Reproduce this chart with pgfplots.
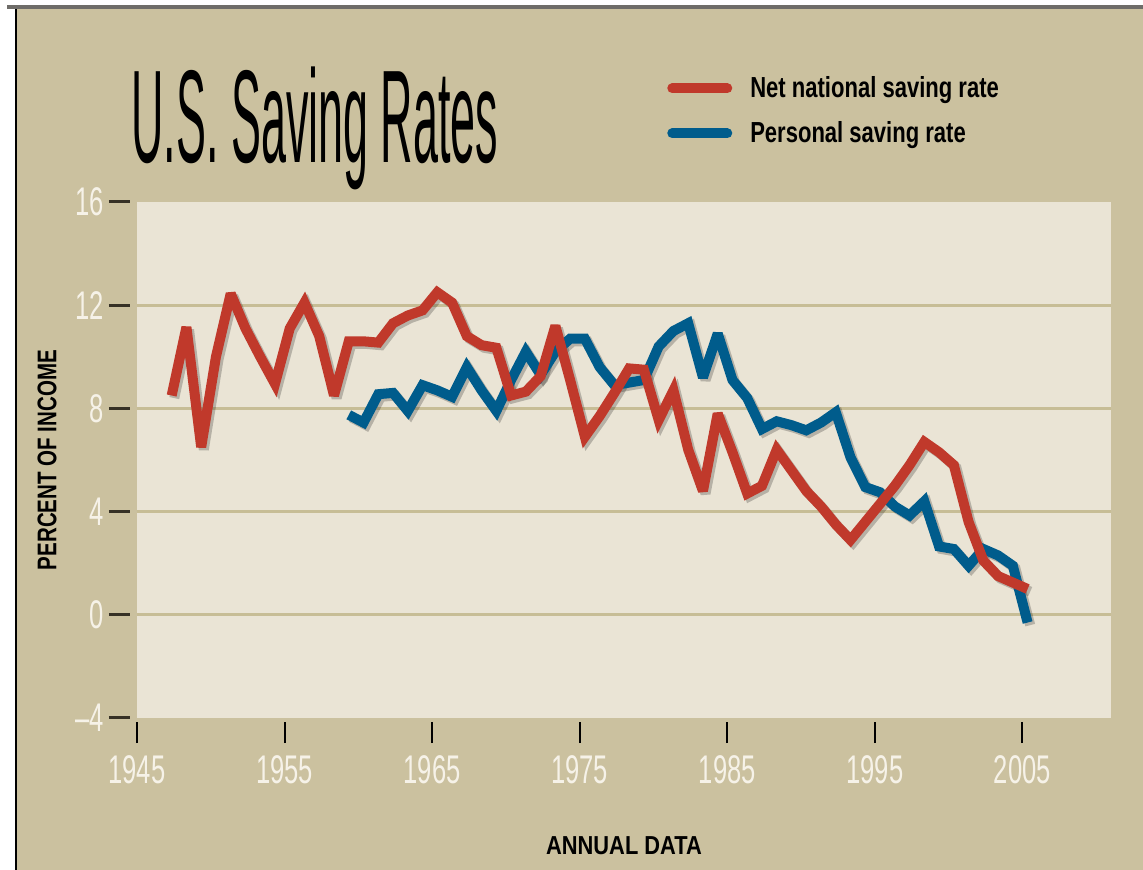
\documentclass[border=0pt]{standalone}
\usepackage{pgfplots}
\pgfplotsset{compat=1.18}
\usepackage{pgfplotstable}
\usepackage{fontspec}
\setmainfont{Liberation Sans}
\newfontfamily\titlefont[FakeStretch=0.34]{Liberation Sans}
\newfontfamily\tickfont[FakeStretch=0.64]{Liberation Sans}
\newfontfamily\labelfont[FakeStretch=0.76]{Liberation Sans}
\newfontfamily\xlabfont[FakeStretch=0.84]{Liberation Sans}

\definecolor{tanbg}{RGB}{203,193,159}
\definecolor{cream}{RGB}{234,228,213}
\definecolor{gridc}{RGB}{199,189,150}
\definecolor{netred}{RGB}{192,57,43}
\definecolor{persblue}{RGB}{0,92,140}
\definecolor{ticktext}{RGB}{246,242,232}
\definecolor{tickdark}{RGB}{55,50,38}
\definecolor{topgray}{RGB}{110,108,104}

\pgfplotstableread{
year value
1947 8.5
1948 11.15
1949 6.5
1950 10.0
1951 12.45
1952 11.1
1953 10.0
1954 8.95
1955 11.1
1956 12.1
1957 10.8
1958 8.5
1959 10.6
1960 10.6
1961 10.55
1962 11.3
1963 11.6
1964 11.8
1965 12.5
1966 12.1
1967 10.8
1968 10.45
1969 10.35
1970 8.5
1971 8.65
1972 9.25
1973 11.2
1974 9.1
1975 6.9
1976 7.7
1977 8.6
1978 9.55
1979 9.5
1980 7.55
1981 8.7
1982 6.4
1983 4.8
1984 7.8
1985 6.3
1986 4.7
1987 5.0
1988 6.4
1989 5.6
1990 4.8
1991 4.2
1992 3.5
1993 2.9
1994 3.6
1995 4.3
1996 5.0
1997 5.8
1998 6.7
1999 6.3
2000 5.8
2001 3.6
2002 2.1
2003 1.5
2004 1.25
2005 1.0
}\netnational

\pgfplotstableread{
year value
1959 7.75
1960 7.45
1961 8.55
1962 8.6
1963 7.9
1964 8.9
1965 8.7
1966 8.45
1967 9.6
1968 8.7
1969 7.9
1970 9.1
1971 10.2
1972 9.3
1973 10.2
1974 10.7
1975 10.7
1976 9.6
1977 8.9
1978 9.0
1979 9.1
1980 10.4
1981 11.0
1982 11.3
1983 9.2
1984 10.9
1985 9.1
1986 8.4
1987 7.2
1988 7.5
1989 7.35
1990 7.15
1991 7.45
1992 7.85
1993 6.1
1994 4.95
1995 4.75
1996 4.2
1997 3.85
1998 4.4
1999 2.65
2000 2.55
2001 1.9
2002 2.55
2003 2.3
2004 1.9
2005 -0.3
}\personal

\begin{document}
\begin{tikzpicture}
% page background and frame
\fill[white] (-68.5pt,-76pt) rectangle (503pt,359pt);
\fill[tanbg] (-60pt,-76pt) rectangle (503pt,354.5pt);
\fill[topgray] (-65pt,354.5pt) rectangle (503pt,356.5pt);
\fill[black] (-61pt,-76pt) rectangle (-60pt,354.5pt);
\begin{axis}[
  at={(0,0)}, anchor=south west,
  scale only axis, width=487pt, height=258pt,
  xmin=1945, xmax=2011, ymin=-4, ymax=16,
  axis background/.style={fill=cream},
  axis line style={draw=none},
  xtick={1945,1955,1965,1975,1985,1995,2005},
  xticklabels={1945,1955,1965,1975,1985,1995,2005},
  ytick={-4,0,4,8,12,16},
  yticklabels={\textendash4,0,4,8,12,16},
  extra y ticks={0,4,8,12},
  extra y tick labels={},
  extra y tick style={ymajorgrids=true, major tick length=0pt, grid style={gridc, line width=1.5pt}},
  tick align=outside,
  major tick length=10.5pt,
  x tick style={black, line width=1pt, yshift=-2pt},
  y tick style={tickdark, line width=1.5pt, xshift=-3.5pt},
  xtick pos=bottom, ytick pos=left,
  xticklabel style={font=\tickfont\fontsize{20}{20}\selectfont, text=ticktext, inner sep=0pt, anchor=north, yshift=-8pt},
  yticklabel style={font=\tickfont\fontsize{20}{20}\selectfont, text=ticktext, inner sep=0pt, anchor=east, xshift=-6pt},
  xlabel={ANNUAL DATA},
  ylabel={PERCENT OF INCOME},
  xlabel style={font=\xlabfont\bfseries\fontsize{13}{15}\selectfont, text=black, at={(axis description cs:0.5,-0.248)}, anchor=center},
  ylabel style={font=\labelfont\bfseries\fontsize{13.5}{15}\selectfont, text=black, at={(axis description cs:-0.0924,0.5)}, anchor=center},
  legend style={at={(axis description cs:0.544,1.252)}, anchor=north west, draw=none, fill=none, inner sep=0pt,
    font=\labelfont\bfseries\fontsize{14.5}{16}\selectfont, row sep=6.5pt, column sep=7pt,
    nodes={inner sep=2pt}},
  legend cell align=left,
  reverse legend,
  legend image code/.code={\draw[#1, line cap=round] (2.5pt,0pt) -- (30pt,0pt);},
  clip=false,
]
\addplot[forget plot, draw=black, opacity=0.22, line width=5pt, line join=miter, miter limit=3,
  transform canvas={xshift=1.3pt,yshift=-1.3pt}]
  table[x expr=\thisrow{year}+0.35, y=value]{\netnational};
\addplot[forget plot, draw=black, opacity=0.22, line width=5pt, line join=miter, miter limit=3,
  transform canvas={xshift=1.3pt,yshift=-1.3pt}]
  table[x expr=\thisrow{year}+0.35, y=value]{\personal};
\addplot[persblue, line width=5pt, line join=miter, miter limit=3]
  table[x expr=\thisrow{year}+0.35, y=value]{\personal};
\addlegendentry{Personal saving rate}
\addplot[netred, line width=5pt, line join=miter, miter limit=3]
  table[x expr=\thisrow{year}+0.35, y=value]{\netnational};
\addlegendentry{Net national saving rate}
\node[anchor=base west, inner sep=0pt, font=\titlefont\fontsize{66}{66}\selectfont, text=black]
  at (axis description cs:-0.006,1.0756) {U.S. Saving Rates};
\end{axis}
\end{tikzpicture}
\end{document}
